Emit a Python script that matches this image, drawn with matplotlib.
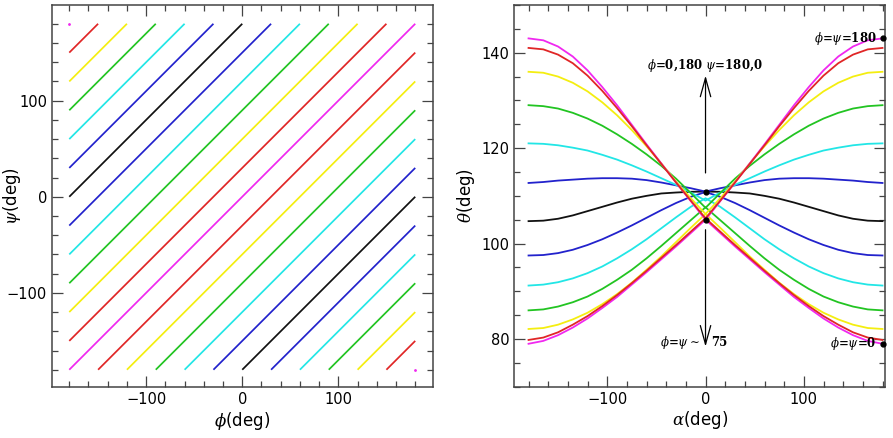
import numpy as np
import matplotlib
matplotlib.use('Agg')
import matplotlib.pyplot as plt
from matplotlib.ticker import MultipleLocator

# left panel: lines psi = phi + offset
offsets = [-360, -330, -300, -270, -240, -210, -180, -150, -120, -90, -60, -30,
           0, 30, 60, 90, 120, 150, 180, 210, 240, 270, 300, 330, 360]
offset_names = ['m', 'r', 'y', 'g', 'c', 'b', 'k', 'b', 'c', 'g', 'y', 'r',
                'm', 'r', 'y', 'g', 'c', 'b', 'k', 'b', 'c', 'g', 'y', 'r', 'm']

# right panel: theta vs alpha
alpha = [-180, -165, -150, -135, -120, -105, -90, -75, -60, -45, -30, -15, 0,
         15, 30, 45, 60, 75, 90, 105, 120, 135, 150, 165, 180]
theta_m1 = [143.0, 142.6, 141.3, 139.2, 136.3, 132.8, 129.0, 124.9, 120.8, 116.8, 112.8, 108.9, 105.0,
            108.9, 112.8, 116.8, 120.8, 124.9, 129.0, 132.8, 136.3, 139.2, 141.3, 142.6, 143.0]
theta_r1 = [141.0, 140.7, 139.6, 137.8, 135.2, 132.0, 128.4, 124.6, 120.6, 116.7, 112.8, 109.0, 105.3,
            109.0, 112.8, 116.7, 120.6, 124.6, 128.4, 132.0, 135.2, 137.8, 139.6, 140.7, 141.0]
theta_y1 = [136.0, 135.8, 135.0, 133.7, 131.9, 129.6, 126.9, 123.8, 120.4, 116.8, 113.0, 109.5, 106.2,
            109.5, 113.0, 116.8, 120.4, 123.8, 126.9, 129.6, 131.9, 133.7, 135.0, 135.8, 136.0]
theta_g1 = [129.0, 128.8, 128.3, 127.4, 126.2, 124.7, 122.9, 120.9, 118.7, 116.3, 113.6, 110.6, 107.5,
            110.6, 113.6, 116.3, 118.7, 120.9, 122.9, 124.7, 126.2, 127.4, 128.3, 128.8, 129.0]
theta_c1 = [121.0, 120.9, 120.6, 120.1, 119.5, 118.6, 117.6, 116.4, 115.1, 113.7, 112.3, 110.7, 109.0,
            110.7, 112.3, 113.7, 115.1, 116.4, 117.6, 118.6, 119.5, 120.1, 120.6, 120.9, 121.0]
theta_b1 = [112.7, 112.9, 113.2, 113.4, 113.6, 113.7, 113.7, 113.6, 113.3, 112.8, 112.2, 111.6, 110.9,
            111.6, 112.2, 112.8, 113.3, 113.6, 113.7, 113.7, 113.6, 113.4, 113.2, 112.9, 112.7]
theta_k = [104.7, 104.8, 105.2, 105.9, 106.8, 107.7, 108.6, 109.4, 110.0, 110.5, 110.7, 110.85, 110.9,
           110.85, 110.7, 110.5, 110.0, 109.4, 108.6, 107.7, 106.8, 105.9, 105.2, 104.8, 104.7]
theta_b2 = [97.5, 97.6, 98.0, 98.7, 99.7, 100.9, 102.3, 103.8, 105.4, 107.0, 108.5, 109.8, 110.8,
            109.8, 108.5, 107.0, 105.4, 103.8, 102.3, 100.9, 99.7, 98.7, 98.0, 97.6, 97.5]
theta_c2 = [91.2, 91.4, 91.9, 92.7, 93.8, 95.2, 96.9, 98.8, 100.9, 103.2, 105.5, 107.7, 109.5,
            107.7, 105.5, 103.2, 100.9, 98.8, 96.9, 95.2, 93.8, 92.7, 91.9, 91.4, 91.2]
theta_g2 = [86.0, 86.2, 86.8, 87.7, 88.9, 90.5, 92.4, 94.5, 96.9, 99.5, 102.2, 104.9, 107.6,
            104.9, 102.2, 99.5, 96.9, 94.5, 92.4, 90.5, 88.9, 87.7, 86.8, 86.2, 86.0]
theta_y2 = [82.1, 82.3, 83.0, 84.1, 85.5, 87.3, 89.4, 91.8, 94.5, 97.3, 100.3, 103.3, 106.2,
            103.3, 100.3, 97.3, 94.5, 91.8, 89.4, 87.3, 85.5, 84.1, 83.0, 82.3, 82.1]
theta_r2 = [79.8, 80.3, 81.4, 83.0, 84.8, 86.9, 89.2, 91.7, 94.3, 97.0, 99.7, 102.5, 105.3,
            102.5, 99.7, 97.0, 94.3, 91.7, 89.2, 86.9, 84.8, 83.0, 81.4, 80.3, 79.8]
theta_m2 = [79.0, 79.6, 80.8, 82.4, 84.3, 86.5, 88.8, 91.4, 94.0, 96.7, 99.4, 102.2, 105.0,
            102.2, 99.4, 96.7, 94.0, 91.4, 88.8, 86.5, 84.3, 82.4, 80.8, 79.6, 79.0]

curves = [('k', theta_k), ('b', theta_b2), ('c', theta_c2), ('g', theta_g2), ('y', theta_y2),
          ('m', theta_m2), ('r', theta_r2), ('b', theta_b1), ('c', theta_c1), ('g', theta_g1),
          ('y', theta_y1), ('m', theta_m1), ('r', theta_r1)]

# marked points
dot_alpha = [0, 0, 180, 180]
dot_theta = [110.9, 105.0, 143.0, 79.0]

colors = {'m': '#f028f0', 'r': '#e02626', 'y': '#f4ee10', 'g': '#22c422',
          'c': '#22e6e6', 'b': '#2222cc', 'k': '#111111'}

plt.rcParams['mathtext.fontset'] = 'dejavuserif'

fig = plt.figure(figsize=(8.93, 4.38), dpi=100)
ax1 = fig.add_axes([0.0582, 0.1164, 0.4267, 0.8721])
ax2 = fig.add_axes([0.5759, 0.1171, 0.4151, 0.8715])

for c, name in zip(offsets, offset_names):
    lo = max(-180, -180 - c)
    hi = min(180, 180 - c)
    if lo == hi:
        ax1.plot([lo], [lo + c], '.', color=colors[name], ms=2)
    else:
        ax1.plot([lo, hi], [lo + c, hi + c], color=colors[name], lw=1.25,
                 solid_capstyle='butt')

ax1.set_xlim(-198, 198.5)
ax1.set_ylim(-198, 199.5)
ax1.set_xlabel(r'$\phi$(deg)', fontsize=12, labelpad=2)
ax1.set_ylabel(r'$\psi$(deg)', fontsize=12)
ax1.yaxis.set_label_coords(-0.075, 0.5)

for name, th in curves:
    ax2.plot(alpha, th, color=colors[name], lw=1.3)

ax2.plot(dot_alpha, dot_theta, 'o', color='k', ms=3.5, clip_on=False, zorder=5)

arrow = dict(arrowstyle='->,head_length=0.9,head_width=0.25', color='k', lw=0.9,
             mutation_scale=15, shrinkA=0, shrinkB=0)
ax2.annotate('', xy=(0, 135.2), xytext=(0, 114.8), arrowprops=arrow)
ax2.annotate('', xy=(0, 78.4), xytext=(0, 102.9), arrowprops=arrow)

tfont = dict(fontsize=8.5, family='DejaVu Serif', fontweight='bold')
ax2.text(-1, 135.6, r'$\phi$=0,180 $\psi$=180,0', ha='center', va='bottom', **tfont)
ax2.text(-6, 79.2, r'$\phi$=$\psi\sim$', ha='right', va='center', **tfont)
ax2.text(6, 79.2, '75', ha='left', va='center', **tfont)
ax2.text(174, 142.9, r'$\phi$=$\psi$=180', ha='right', va='center', **tfont)
ax2.text(174, 79.0, r'$\phi$=$\psi$=0', ha='right', va='center', **tfont)

ax2.set_xlim(-194.5, 182.5)
ax2.set_ylim(70, 150)
ax2.set_xlabel(r'$\alpha$(deg)', fontsize=12, labelpad=2)
ax2.set_ylabel(r'$\theta$(deg)', fontsize=12)
ax2.yaxis.set_label_coords(-0.1, 0.5)

for ax in (ax1, ax2):
    ax.xaxis.set_major_locator(MultipleLocator(100))
    ax.xaxis.set_minor_locator(MultipleLocator(20))
    ax.tick_params(which='both', direction='in', top=True, right=True,
                   labelsize=10.5, color='#444444', width=0.9)
    ax.tick_params(which='major', length=8)
    ax.tick_params(which='minor', length=4)
    for s in ax.spines.values():
        s.set_color('#444444')
        s.set_linewidth(1.1)

ax1.yaxis.set_major_locator(MultipleLocator(100))
ax1.yaxis.set_minor_locator(MultipleLocator(20))
ax2.yaxis.set_major_locator(MultipleLocator(20))
ax2.yaxis.set_minor_locator(MultipleLocator(5))

fig.savefig('out.png', dpi=100)
